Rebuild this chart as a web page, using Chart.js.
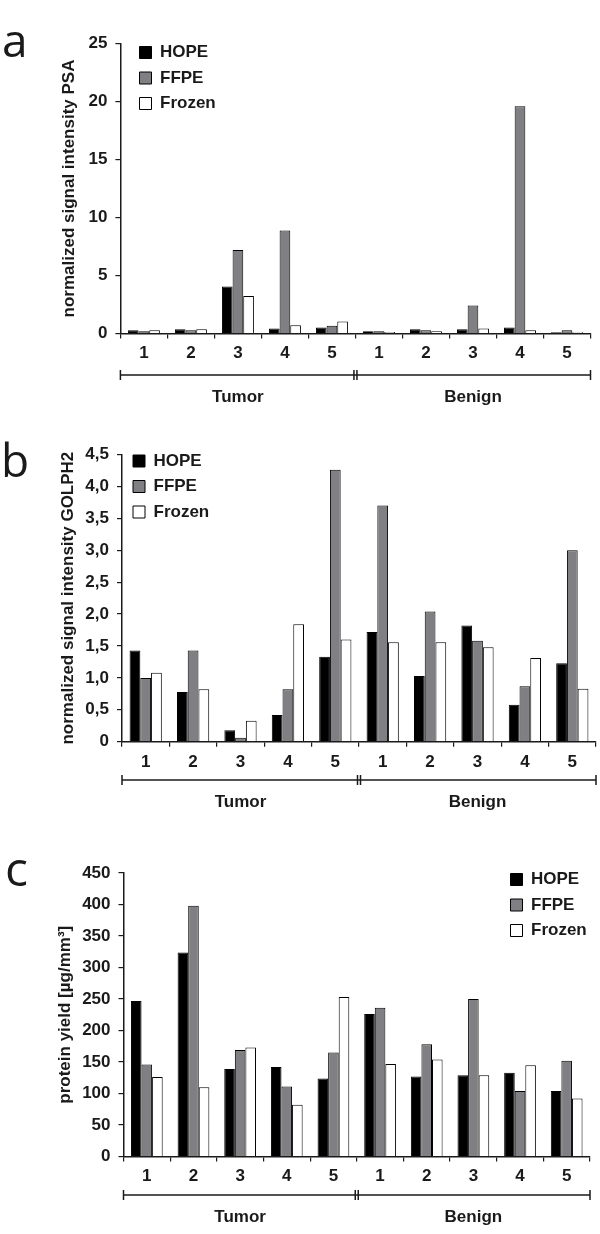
<!DOCTYPE html>
<html lang="en">
<head>
<meta charset="UTF-8" />
<title>HOPE / FFPE / Frozen</title>
<script src="https://cdn.jsdelivr.net/npm/chart.js"></script>
<style>
  body { margin: 0; background: #fff; }
  .page { position: relative; width: 600px; height: 1234px; }
  .panel { position: absolute; left: 0; width: 600px; }
  .tag { position: absolute; font-family: "Open Sans", sans-serif; color: #1a1a1a; }
</style>
</head>
<body>
<div class="page">
  <div class="panel" style="top:0;height:410px"><canvas id="chartA"></canvas></div>
  <div class="panel" style="top:410px;height:410px"><canvas id="chartB"></canvas></div>
  <div class="panel" style="top:820px;height:414px"><canvas id="chartC"></canvas></div>
  <div class="tag" style="left:2px;top:16px;font-size:46px;line-height:46px">a</div>
  <div class="tag" style="left:1px;top:436px;font-size:46px;line-height:46px">b</div>
  <div class="tag" style="left:5px;top:844px;font-size:48px;line-height:48px">c</div>
</div>

<script>
const categories = ['1', '2', '3', '4', '5', '1', '2', '3', '4', '5'];
const groups = ['Tumor', 'Benign'];
const seriesNames = ['HOPE', 'FFPE', 'Frozen'];

// a - PSA
const psaHope   = [0.29, 0.37, 4.06, 0.43, 0.52, 0.2, 0.37, 0.37, 0.52, 0.1];
const psaFfpe   = [0.2, 0.29, 7.2, 8.87, 0.66, 0.2, 0.29, 2.42, 19.6, 0.29];
const psaFrozen = [0.29, 0.37, 3.23, 0.72, 1.04, 0.14, 0.2, 0.43, 0.29, 0.1];
const psaTicks  = ['0', '5', '10', '15', '20', '25'];

// b - GOLPH2
const golphHope   = [1.43, 0.78, 0.18, 0.42, 1.33, 1.72, 1.03, 1.82, 0.58, 1.23];
const golphFfpe   = [1.0, 1.43, 0.06, 0.82, 4.26, 3.7, 2.04, 1.58, 0.87, 3.0];
const golphFrozen = [1.08, 0.82, 0.33, 1.84, 1.6, 1.56, 1.56, 1.48, 1.31, 0.83];
const golphTicks  = ['0', '0,5', '1,0', '1,5', '2,0', '2,5', '3,0', '3,5', '4,0', '4,5'];

// c - protein yield
const yieldHope   = [247, 324, 139, 142, 124, 226, 127, 129, 133, 104];
const yieldFfpe   = [146, 398, 169, 111, 165, 236, 178, 250, 104, 152];
const yieldFrozen = [126, 110, 173, 82, 253, 147, 154, 129, 145, 92];
const yieldTicks  = ['0', '50', '100', '150', '200', '250', '300', '350', '400', '450'];

const fills = ['#000000', '#808084', '#ffffff'];
const ink = '#1a1a1a';
Chart.defaults.font.family = '"Liberation Sans", Arial, sans-serif';
Chart.defaults.color = ink;

// bracket under the x axis with the Tumor / Benign labels
const groupBracket = {
  id: 'groupBracket',
  afterDraw(chart, args, opts) {
    const x = chart.scales.x;
    const ctx = chart.ctx;
    const y0 = chart.chartArea.bottom + opts.offset;
    const mid = (x.getPixelForTick(4) + x.getPixelForTick(5)) / 2;
    ctx.save();
    ctx.strokeStyle = ink;
    ctx.lineWidth = 1.5;
    ctx.beginPath();
    ctx.moveTo(x.left, y0); ctx.lineTo(x.right, y0);
    [x.left, x.right, mid - 1.5, mid + 1.5].forEach(px => {
      ctx.moveTo(px, y0 - 5); ctx.lineTo(px, y0 + 5);
    });
    ctx.stroke();
    ctx.fillStyle = ink;
    ctx.font = 'bold 17px "Liberation Sans", Arial, sans-serif';
    ctx.textAlign = 'center';
    ctx.textBaseline = 'middle';
    ctx.fillText(groups[0], (x.left + mid) / 2, y0 + 22.5);
    ctx.fillText(groups[1], (mid + x.right) / 2, y0 + 22.5);
    ctx.restore();
  }
};

// put the legend where it sits in the figure
const legendSpot = {
  id: 'legendSpot',
  afterLayout(chart, args, opts) {
    const lg = chart.legend;
    const pad = lg.options.labels.padding;
    const w = lg.width, h = lg.height;
    lg.left = opts.x - pad;
    lg.top = opts.y - pad;
    lg.right = lg.left + w;
    lg.bottom = lg.top + h;
  }
};

function makeChart(id, cfg) {
  return new Chart(document.getElementById(id), {
    type: 'bar',
    data: {
      labels: categories,
      datasets: cfg.values.map((vals, i) => ({
        label: seriesNames[i],
        data: vals,
        backgroundColor: fills[i],
        borderColor: '#000',
        borderWidth: 1,
        categoryPercentage: 0.68,
        barPercentage: 1.0
      }))
    },
    plugins: [groupBracket, legendSpot],
    options: {
      responsive: true,
      maintainAspectRatio: false,
      animation: false,
      layout: { padding: { top: cfg.top, right: cfg.right, left: 0, bottom: 0 } },
      plugins: {
        tooltip: { enabled: false },
        legend: {
          position: 'chartArea',
          align: 'start',
          labels: {
            boxWidth: 12,
            boxHeight: 12,
            padding: 8.5,
            color: ink,
            font: { size: 17, weight: 'bold' }
          }
        },
        groupBracket: { offset: cfg.bracket },
        legendSpot: { x: cfg.legendX, y: cfg.legendY }
      },
      scales: {
        x: {
          grid: { offset: true, drawOnChartArea: false, tickLength: 5, color: ink, lineWidth: 1.2 },
          border: { color: ink, width: 1.5 },
          ticks: { autoSkip: false, maxRotation: 0, padding: 5, color: ink, font: { size: 17, weight: 'bold' } },
          afterFit: s => { s.height = cfg.xHeight; }
        },
        y: {
          min: 0,
          max: cfg.max,
          grid: { drawOnChartArea: false, tickLength: 5, color: ink, lineWidth: 1.2 },
          border: { color: ink, width: 1.5 },
          ticks: {
            stepSize: cfg.step,
            padding: 8,
            color: ink,
            font: { size: 17, weight: 'bold' },
            callback: (v, i) => cfg.ticks[i]
          },
          title: {
            display: true,
            text: cfg.title,
            color: ink,
            font: { size: 17, weight: 'bold' },
            padding: { top: cfg.titleX - 10.2, bottom: 0 }
          },
          afterFit: s => { s.width = cfg.left; }
        }
      }
    }
  });
}

makeChart('chartA', {
  values: [psaHope, psaFfpe, psaFrozen], ticks: psaTicks, max: 25, step: 5,
  title: 'normalized signal intensity PSA',
  top: 43.5, right: 9.5, left: 120.4, xHeight: 76.5, titleX: 69,
  bracket: 41.5, legendX: 139.5, legendY: 44
});

makeChart('chartB', {
  values: [golphHope, golphFfpe, golphFrozen], ticks: golphTicks, max: 4.5, step: 0.5,
  title: 'normalized signal intensity GOLPH2',
  top: 44.5, right: 4, left: 122, xHeight: 78.3, titleX: 68.5,
  bracket: 38.3, legendX: 133, legendY: 42.5
});

makeChart('chartC', {
  values: [yieldHope, yieldFfpe, yieldFrozen], ticks: yieldTicks, max: 450, step: 50,
  title: 'protein yield [µg/mm³]',
  top: 53, right: 10, left: 123.5, xHeight: 77.5, titleX: 65.4,
  bracket: 38.5, legendX: 510.5, legendY: 51
});
</script>
</body>
</html>
